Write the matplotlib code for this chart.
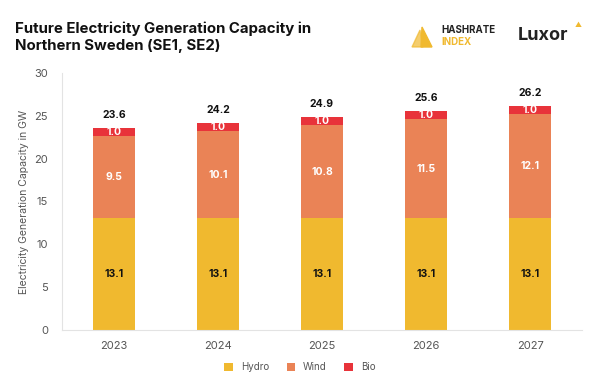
import matplotlib
matplotlib.use("Agg")
import matplotlib.pyplot as plt
from matplotlib.patches import Polygon

years = ["2023", "2024", "2025", "2026", "2027"]
hydro = [13.1, 13.1, 13.1, 13.1, 13.1]
wind = [9.5, 10.1, 10.8, 11.5, 12.1]
bio = [1.0, 1.0, 1.0, 1.0, 1.0]
totals = [23.6, 24.2, 24.9, 25.6, 26.2]
series_names = ["Hydro", "Wind", "Bio"]
colors = ["#F0B92F", "#EA8356", "#E8333A"]

plt.rcParams['font.family'] = ['Inter', 'DejaVu Sans']

fig = plt.figure(figsize=(6.0, 3.85), dpi=100)
W, H = 600, 385
ax = fig.add_axes([62 / W, 1 - 330 / H, 520 / W, (330 - 73) / H])

x = list(range(len(years)))
bw = 0.4
ax.bar(x, hydro, bw, color=colors[0], label=series_names[0])
ax.bar(x, wind, bw, bottom=hydro, color=colors[1], label=series_names[1])
b2 = [h + w for h, w in zip(hydro, wind)]
ax.bar(x, bio, bw, bottom=b2, color=colors[2], label=series_names[2])

for i in x:
    ax.text(i, hydro[i] / 2, f"{hydro[i]:.1f}", ha='center', va='center',
            fontsize=7.5, fontweight='bold', color='#111111')
    ax.text(i, hydro[i] + wind[i] / 2, f"{wind[i]:.1f}", ha='center', va='center',
            fontsize=7.5, fontweight='bold', color='white')
    ax.text(i, b2[i] + bio[i] / 2, f"{bio[i]:.1f}", ha='center', va='center',
            fontsize=7.5, fontweight='bold', color='white')
    ax.text(i, totals[i] + 0.9, f"{totals[i]:.1f}", ha='center', va='bottom',
            fontsize=7.5, fontweight='bold', color='#111111')

ax.set_xlim(-0.5, 4.5)
ax.set_ylim(0, 30)
ax.set_yticks([0, 5, 10, 15, 20, 25, 30])
ax.set_xticks(x)
ax.set_xticklabels(years)
ax.tick_params(axis='both', length=0, labelsize=8, colors='#555555', pad=8)
ax.tick_params(axis='y', pad=10)
for s in ['top', 'right']:
    ax.spines[s].set_visible(False)
for s in ['left', 'bottom']:
    ax.spines[s].set_color('#E3E3E3')
    ax.spines[s].set_linewidth(0.8)
ax.set_ylabel("Electricity Generation Capacity in GW", fontsize=7.5, color='#555555', labelpad=4)

leg = fig.legend(loc='center', bbox_to_anchor=(0.5, 1 - 367 / H), ncol=3, frameon=False,
                 fontsize=7, handlelength=0.9, handleheight=0.9, columnspacing=1.8,
                 handletextpad=0.8, labelcolor='#555555')

fig.text(15 / W, 1 - 37 / H, "Future Electricity Generation Capacity in\nNorthern Sweden (SE1, SE2)",
         ha='left', va='center', fontsize=10.8, fontweight='bold', color='#111111', linespacing=1.3)

# HASHRATE INDEX logo
fig.patches.append(Polygon([(412 / W, 1 - 47 / H), (423 / W, 1 - 47 / H), (420 / W, 1 - 30 / H)],
                           closed=True, transform=fig.transFigure, color='#F0B92F', alpha=0.7))
fig.patches.append(Polygon([(421 / W, 1 - 47 / H), (432 / W, 1 - 47 / H), (422 / W, 1 - 27 / H)],
                           closed=True, transform=fig.transFigure, color='#F0B92F'))
fig.text(441 / W, 1 - 30 / H, "HASHRATE", fontsize=7, fontweight='bold', color='#222222',
         ha='left', va='center')
fig.text(441 / W, 1 - 42 / H, "INDEX", fontsize=7, fontweight='bold', color='#F0B92F',
         ha='left', va='center')
fig.text(518 / W, 1 - 35 / H, "Luxor", fontsize=13, fontweight='bold', color='#222222',
         ha='left', va='center')
fig.text(578 / W, 1 - 25 / H, "▲", fontsize=5, color='#F0B92F', ha='center', va='center')

fig.savefig("out.png", dpi=100)
